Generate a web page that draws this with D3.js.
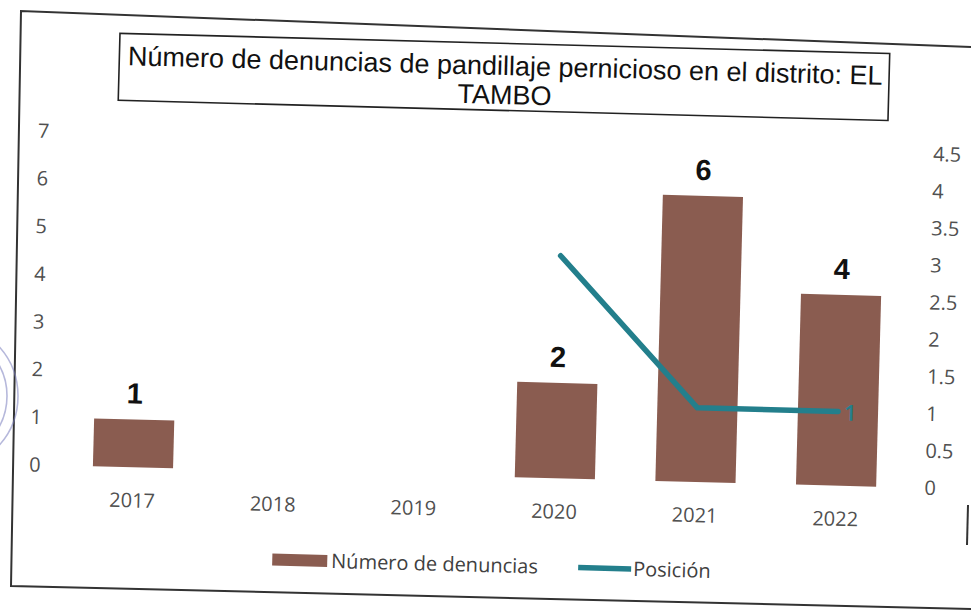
<!DOCTYPE html>
<html lang="es">
<head>
<meta charset="UTF-8" />
<script src="https://d3js.org/d3.v7.min.js"></script>
<title>Denuncias pandillaje El Tambo</title>
<style>
  body { margin: 0; background: #fff; overflow: hidden; }
  svg { display: block; }
  .axis text { font-family: "Open Sans", sans-serif; font-size: 20px; fill: #505050; }
  .axis .domain { display: none; }
</style>
</head>
<body>
<script>
const years = ["2017", "2018", "2019", "2020", "2021", "2022"];
const denuncias = [1, 0, 0, 2, 6, 4];
const posicion = [null, null, null, 3, 1, 1];
const leftTicks = [0, 1, 2, 3, 4, 5, 6, 7];
const rightTicks = [0, 0.5, 1, 1.5, 2, 2.5, 3, 3.5, 4, 4.5];
const titleLines = ["Número de denuncias de pandillaje pernicioso en el distrito: EL", "TAMBO"];
const legendNames = ["Número de denuncias", "Posición"];

const W = 971, H = 611;
const barColor = "#8a5c50", lineColor = "#237f8c";

const svg = d3.select("body").append("svg")
    .attr("width", W).attr("height", H);

// paper frame of the scan (slightly skewed); right edge mostly off the page
svg.append("path")
    .attr("d", "M971,47 L21,11 L11,586 L971,609")
    .attr("fill", "none").attr("stroke", "#333").attr("stroke-width", 2);
svg.append("line").attr("x1", 968).attr("x2", 967).attr("y1", 505).attr("y2", 545)
    .attr("stroke", "#333").attr("stroke-width", 2);

// faint stamp at the left edge
const stamp = svg.append("g").attr("opacity", 0.55);
[74, 63].forEach(r => {
    stamp.append("circle").attr("cx", -56).attr("cy", 396).attr("r", r)
        .attr("fill", "none").attr("stroke", "#7b7fbf").attr("stroke-width", 1.6);
});

// chart content, rotated like the scanned page
const g = svg.append("g").attr("transform", "rotate(1.5,485,305)");

const x = d3.scaleBand().domain(years).range([67, 911])
    .paddingInner(0.43).paddingOuter(0.215);
const yL = d3.scaleLinear().domain([0, 7]).range([476.4, 142.5]);
const yR = d3.scaleLinear().domain([0, 4.5]).range([476.4, 142.5]);

// title box
g.append("rect").attr("x", 113).attr("y", 43).attr("width", 770).attr("height", 67)
    .attr("fill", "#fff").attr("stroke", "#222").attr("stroke-width", 1.6);
g.append("g").selectAll("text").data(titleLines).join("text")
    .attr("x", 499).attr("y", (d, i) => 74.6 + i * 29)
    .attr("text-anchor", "middle")
    .attr("font-family", "'Liberation Sans', Arial, sans-serif")
    .attr("font-size", 27).attr("fill", "#111")
    .text(d => d);

// axes
const axL = g.append("g").attr("class", "axis").attr("transform", "translate(45,0)")
    .call(d3.axisLeft(yL).tickValues(leftTicks).tickSize(0).tickPadding(0)
        .tickFormat(d3.format("")));
const axR = g.append("g").attr("class", "axis").attr("transform", "translate(929,0)")
    .call(d3.axisRight(yR).tickValues(rightTicks).tickSize(0).tickPadding(0)
        .tickFormat(d3.format("")));
const axB = g.append("g").attr("class", "axis").attr("transform", "translate(0,476.4)")
    .call(d3.axisBottom(x).tickSize(0).tickPadding(26));
axB.select(".domain").style("display", null).attr("stroke", "#e4e4e4");

// bars
const rows = years.map((y, i) => ({ year: y, v: denuncias[i], p: posicion[i] }));
g.append("g").selectAll("rect").data(rows.filter(d => d.v > 0)).join("rect")
    .attr("x", d => x(d.year)).attr("width", x.bandwidth())
    .attr("y", d => yL(d.v)).attr("height", d => yL(0) - yL(d.v))
    .attr("fill", barColor);
g.append("g").selectAll("text").data(rows.filter(d => d.v > 0)).join("text")
    .attr("x", d => x(d.year) + x.bandwidth() / 2)
    .attr("y", d => yL(d.v) - 16)
    .attr("text-anchor", "middle")
    .attr("font-family", "'Liberation Sans', Arial, sans-serif")
    .attr("font-weight", "bold").attr("font-size", 29).attr("fill", "#111")
    .text(d => d.v);

// line
const line = d3.line()
    .defined(d => d.p != null)
    .x(d => x(d.year) + x.bandwidth() / 2)
    .y(d => yR(d.p));
g.append("path").datum(rows).attr("d", line)
    .attr("fill", "none").attr("stroke", lineColor).attr("stroke-width", 5.5)
    .attr("stroke-linejoin", "round").attr("stroke-linecap", "round");
const last = rows[rows.length - 1];
g.append("text")
    .attr("x", x(last.year) + x.bandwidth() / 2 + 6)
    .attr("y", yR(last.p) + 9)
    .attr("font-family", "'Open Sans', sans-serif").attr("font-weight", 600)
    .attr("font-size", 22).attr("fill", lineColor)
    .text(last.p);

// legend
const lg = g.append("g").attr("transform", "translate(0,565)");
lg.append("rect").attr("x", 279).attr("y", -6).attr("width", 55).attr("height", 12)
    .attr("fill", barColor);
lg.append("text").attr("x", 338).attr("y", 7)
    .attr("font-family", "'Open Sans', sans-serif").attr("font-size", 20).attr("fill", "#404040")
    .text(legendNames[0]);
lg.append("line").attr("x1", 585).attr("x2", 638).attr("y1", 0).attr("y2", 0)
    .attr("stroke", lineColor).attr("stroke-width", 5.5);
lg.append("text").attr("x", 640).attr("y", 7)
    .attr("font-family", "'Open Sans', sans-serif").attr("font-size", 20).attr("fill", "#404040")
    .text(legendNames[1]);
</script>
</body>
</html>
